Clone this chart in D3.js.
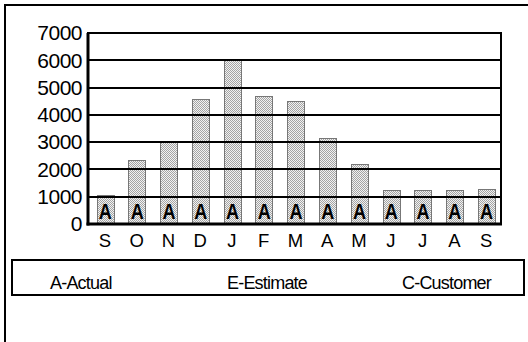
<!DOCTYPE html>
<html>
<head>
<meta charset="utf-8">
<script src="https://cdn.jsdelivr.net/npm/d3@7"></script>
<style>
  html, body { margin: 0; padding: 0; background: #fff; }
  svg { display: block; }
  text { font-family: "Liberation Sans", Arial, sans-serif; }
</style>
</head>
<body>
<svg id="chart" width="528" height="342"></svg>
<script>
const months = ["S", "O", "N", "D", "J", "F", "M", "A", "M", "J", "J", "A", "S"];
const values = [1050, 2350, 3050, 4580, 6000, 4700, 4500, 3170, 2200, 1250, 1230, 1230, 1280];
const barLabels = ["A", "A", "A", "A", "A", "A", "A", "A", "A", "A", "A", "A", "A"];
const yTicks = [0, 1000, 2000, 3000, 4000, 5000, 6000, 7000];
const legendLabels = ["A-Actual", "E-Estimate", "C-Customer"];

const svg = d3.select("#chart");
const W = 528, H = 342;
const plot = { left: 88, right: 501, top: 33, bottom: 224 };

// pattern
const defs = svg.append("defs");
const pat = defs.append("pattern").attr("id", "stip").attr("patternUnits", "userSpaceOnUse")
  .attr("width", 2).attr("height", 2);
pat.append("rect").attr("width", 2).attr("height", 2).attr("fill", "#f2f2f2");
pat.append("rect").attr("x", 0).attr("y", 0).attr("width", 1).attr("height", 1).attr("fill", "#a4a4a4");
pat.append("rect").attr("x", 1).attr("y", 1).attr("width", 1).attr("height", 1).attr("fill", "#a4a4a4");

// outer frame
svg.append("line").attr("x1", 4).attr("x2", W).attr("y1", 5).attr("y2", 5)
  .attr("stroke", "#000").attr("stroke-width", 2);
svg.append("line").attr("x1", 5).attr("x2", 5).attr("y1", 4).attr("y2", H)
  .attr("stroke", "#000").attr("stroke-width", 2);

const x = d3.scaleBand().domain(d3.range(months.length))
  .range([plot.left + 1, plot.right + 1]).paddingInner(0.48).paddingOuter(0.24);
const y = d3.scaleLinear().domain([0, 7000]).range([plot.bottom, plot.top]);

// bars
svg.append("g").selectAll("rect").data(values).join("rect")
  .attr("x", (d, i) => Math.round(x(i)) + 0.5)
  .attr("y", d => Math.round(y(d)) + 0.5)
  .attr("width", Math.round(x.bandwidth()))
  .attr("height", d => Math.round(y(0)) - Math.round(y(d)))
  .attr("fill", "url(#stip)")
  .attr("stroke", "#777")
  .attr("stroke-width", 1);

// gridlines
svg.append("g").selectAll("line").data(yTicks.filter(t => t > 0 && t < 7000)).join("line")
  .attr("x1", plot.left).attr("x2", plot.right)
  .attr("y1", d => Math.round(y(d))).attr("y2", d => Math.round(y(d)))
  .attr("stroke", "#000").attr("stroke-width", 2);

// bar labels
svg.append("g").selectAll("text").data(barLabels).join("text")
  .attr("transform", (d, i) => `translate(${x(i) + x.bandwidth() / 2 + 0.5},219) scale(0.82,1)`)
  .attr("text-anchor", "middle")
  .attr("font-size", 22)
  .attr("font-weight", "bold")
  .attr("fill", "#000")
  .text(d => d);

// plot border
svg.append("rect").attr("x", plot.left).attr("y", plot.top)
  .attr("width", plot.right - plot.left).attr("height", plot.bottom - plot.top)
  .attr("fill", "none").attr("stroke", "#000").attr("stroke-width", 2);
svg.append("line").attr("x1", plot.left).attr("x2", plot.left).attr("y1", plot.top).attr("y2", plot.bottom + 1.5)
  .attr("stroke", "#000").attr("stroke-width", 3);
svg.append("line").attr("x1", plot.left - 1.5).attr("x2", plot.right + 1).attr("y1", plot.bottom).attr("y2", plot.bottom)
  .attr("stroke", "#000").attr("stroke-width", 3);

// y axis
const yAxis = svg.append("g").attr("transform", `translate(${plot.left},0)`)
  .call(d3.axisLeft(y).tickValues(yTicks).tickSize(0).tickPadding(6).tickFormat(d3.format("d")));
yAxis.select(".domain").remove();
yAxis.selectAll("text").attr("font-size", 21).attr("fill", "#000")
  .attr("font-family", "Liberation Sans, Arial, sans-serif").attr("letter-spacing", -0.5);

// x axis
const xAxis = svg.append("g").attr("transform", `translate(0,${plot.bottom})`)
  .call(d3.axisBottom(x).tickSize(0).tickPadding(10).tickFormat(i => months[i]));
xAxis.select(".domain").remove();
xAxis.selectAll("text").attr("font-size", 18.5).attr("fill", "#000")
  .attr("font-family", "Liberation Sans, Arial, sans-serif");

// legend
svg.append("rect").attr("x", 12).attr("y", 260).attr("width", 512).attr("height", 35)
  .attr("fill", "none").attr("stroke", "#000").attr("stroke-width", 2);
const legX = [50, 267, 491];
const legAnchor = ["start", "middle", "end"];
svg.append("g").selectAll("text").data(legendLabels).join("text")
  .attr("x", (d, i) => legX[i]).attr("y", 289)
  .attr("text-anchor", (d, i) => legAnchor[i])
  .attr("font-size", 18)
  .attr("letter-spacing", -0.8)
  .attr("fill", "#000")
  .text(d => d);
</script>
</body>
</html>
